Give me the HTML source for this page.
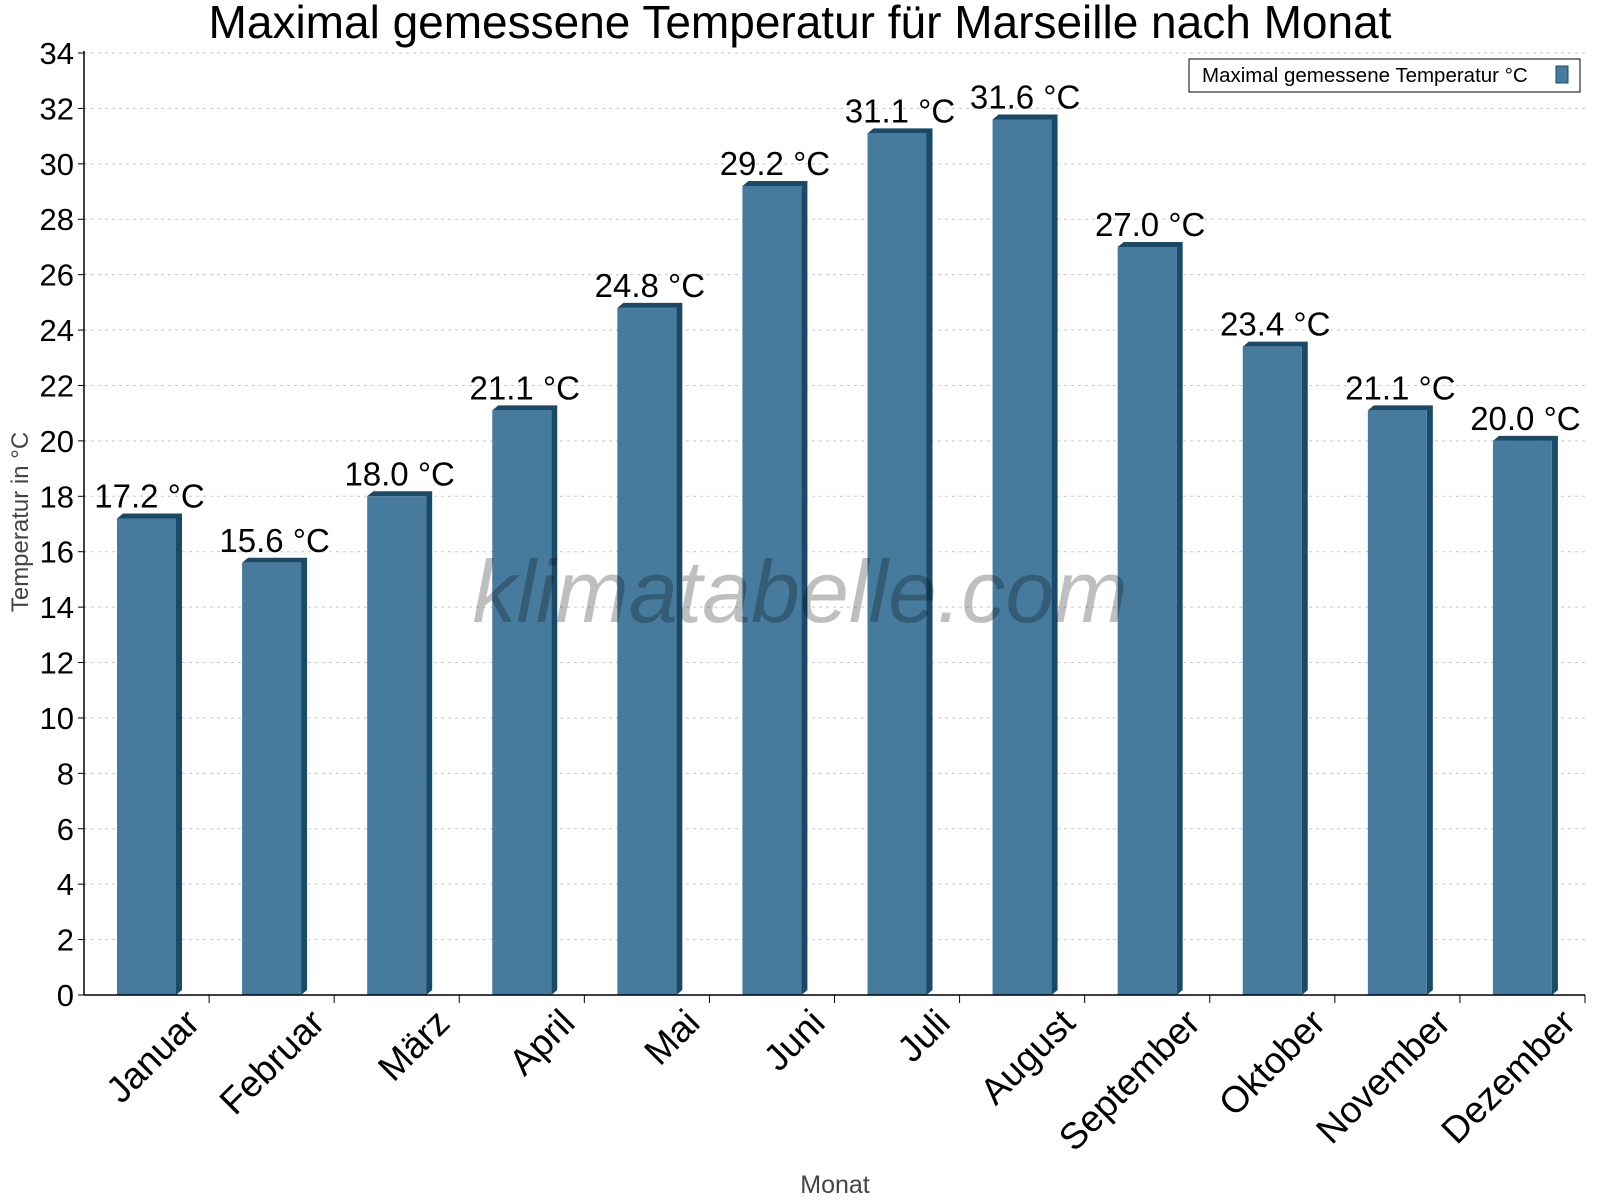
<!DOCTYPE html>
<html><head><meta charset="utf-8"><style>body{margin:0;background:#fff}svg{display:block}text{font-family:"Liberation Sans",sans-serif}</style></head>
<body>
<svg id="chart" width="1600" height="1200" xmlns="http://www.w3.org/2000/svg">
<text x="800" y="38" text-anchor="middle" font-size="46">Maximal gemessene Temperatur für Marseille nach Monat</text>
<g id="grid"></g><g id="bars"></g><g id="axes"></g>
<text x="800" y="622" text-anchor="middle" font-size="88" font-style="italic" fill="#000" fill-opacity="0.25">klimatabelle.com</text>
<text transform="translate(28,522) rotate(-90)" text-anchor="middle" font-size="24" fill="#444">Temperatur in °C</text>
<text x="835" y="1193" text-anchor="middle" font-size="25" fill="#444">Monat</text>
<g>
<rect x="1189" y="59" width="391" height="33" fill="#fff" stroke="#000" stroke-width="1"/>
<text x="1202" y="82" font-size="20.5">Maximal gemessene Temperatur °C</text>
<rect x="1556" y="66" width="12" height="17" fill="#467b9d" stroke="#1a4a6a"/>
</g>
</svg>
<script>
const categories=["Januar","Februar","März","April","Mai","Juni","Juli","August","September","Oktober","November","Dezember"];
const values=[17.2,15.6,18.0,21.1,24.8,29.2,31.1,31.6,27.0,23.4,21.1,20.0];
const yTicks=[0,2,4,6,8,10,12,14,16,18,20,22,24,26,28,30,32,34];
const NS="http://www.w3.org/2000/svg";
const X0=84,X1=1585,Y0=995,Y1=53,YMAX=34;
const bw=(X1-X0)/categories.length;
const y=v=>Y0-(v/YMAX)*(Y0-Y1);
const xc=i=>X0+bw*i;
function mk(t,a,p){const e=document.createElementNS(NS,t);for(const k in a)e.setAttribute(k,a[k]);p.appendChild(e);return e;}
const grid=document.getElementById('grid'),bars=document.getElementById('bars'),axes=document.getElementById('axes');
yTicks.forEach(t=>{
 const g=mk('line',{x1:X0,x2:X1,y1:y(t),y2:y(t),stroke:'#c8c8c8','stroke-dasharray':'3,4'},grid);
 
 
 mk('line',{x1:X0-6,x2:X0,y1:y(t),y2:y(t),stroke:'#000'},axes);
 const l=mk('text',{x:X0-10,y:y(t)+11,'text-anchor':'end','font-size':31},axes);
 l.textContent=t;
 
 
});
mk('line',{x1:X0,x2:X0,y1:Y1-2,y2:Y0,stroke:'#000','stroke-width':1.5},axes);
mk('line',{x1:X0,x2:X1,y1:Y0,y2:Y0,stroke:'#000','stroke-width':1.5},axes);
categories.forEach((c,i)=>{
 const v=values[i],bx=xc(i)+33,w=59,d=6,top=y(v);
 const g=mk('g',{},bars);
 
 
 mk('polygon',{points:`${bx},${top} ${bx+d},${top-5} ${bx+w+d},${top-5} ${bx+w+d},${Y0-5} ${bx+w},${Y0} ${bx+w},${top}`,fill:'#1a4a6a'},g);
 mk('rect',{x:bx,y:top,width:w,height:Y0-top,fill:'#467b9d'},g);
 const t=mk('text',{x:bx+w/2+3,y:top-11,'text-anchor':'middle','font-size':33},g);
 t.textContent=v.toFixed(1)+' °C';
 
 
 mk('line',{x1:xc(i+1),x2:xc(i+1),y1:Y0,y2:Y0+8,stroke:'#000'},axes);
 const cx=xc(i)+bw/2+55;
 const l=mk('text',{x:cx,y:Y0+30,'text-anchor':'end','font-size':37,transform:`rotate(-45 ${cx} ${Y0+30})`},axes);
 l.textContent=c;
 
 
});
</script>
</body></html>
